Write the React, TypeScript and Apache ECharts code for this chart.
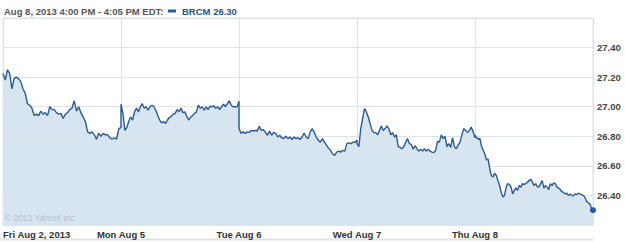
import React, { useEffect, useRef } from "react";
import * as echarts from "echarts";

const dayLabels = ["Fri Aug 2, 2013", "Mon Aug 5", "Tue Aug 6", "Wed Aug 7", "Thu Aug 8"];

const fri = [27.225, 27.18, 27.25, 27.225, 27.12, 27.19, 27.2, 27.19, 27.17, 27.12, 27.09, 27.02, 27.01, 26.99, 26.94, 26.95, 26.94, 26.97, 26.95, 26.96, 26.94, 27.0, 26.98, 26.98, 26.96, 26.95, 26.955, 26.92, 26.95, 26.96, 26.98, 26.99, 27.04, 26.97, 27.0, 26.96, 26.93, 26.9, 26.83, 26.82, 26.83, 26.81, 26.78, 26.82, 26.8, 26.82, 26.81, 26.81, 26.79, 26.78, 26.79, 26.78, 26.85, 26.86];
const mon = [27.017, 26.954, 26.84, 26.86, 26.9, 26.93, 26.91, 26.965, 26.99, 26.965, 27.0, 27.02, 26.99, 27.0, 26.976, 27.0, 27.01, 27.0, 26.976, 26.94, 26.91, 26.89, 26.9, 26.886, 26.91, 26.927, 26.935, 26.95, 26.954, 26.98, 26.965, 26.99, 26.96, 26.965, 26.935, 26.91, 26.93, 26.94, 26.954, 26.965, 27.01, 26.99, 27.0, 26.976, 27.0, 26.98, 27.003, 27.0, 27.005, 26.99, 27.0, 26.98, 27.0, 27.017, 27.0, 27.02, 27.04, 27.01, 27.0, 27.0, 27.0, 27.037];
const tue = [26.852, 26.82, 26.83, 26.82, 26.83, 26.826, 26.84, 26.836, 26.84, 26.835, 26.868, 26.84, 26.845, 26.826, 26.807, 26.836, 26.807, 26.826, 26.82, 26.795, 26.807, 26.79, 26.784, 26.8, 26.784, 26.795, 26.778, 26.795, 26.784, 26.79, 26.778, 26.795, 26.822, 26.795, 26.784, 26.83, 26.852, 26.826, 26.795, 26.773, 26.76, 26.784, 26.76, 26.74, 26.72, 26.705, 26.68, 26.67, 26.693, 26.7, 26.693, 26.705, 26.7, 26.75, 26.755, 26.75, 26.76, 26.76, 26.773];
const wed = [26.75, 26.73, 26.852, 26.92, 26.988, 26.965, 26.93, 26.886, 26.84, 26.825, 26.825, 26.81, 26.84, 26.87, 26.84, 26.852, 26.87, 26.852, 26.81, 26.825, 26.795, 26.81, 26.73, 26.725, 26.716, 26.73, 26.76, 26.784, 26.75, 26.745, 26.712, 26.736, 26.716, 26.7, 26.712, 26.7, 26.716, 26.7, 26.712, 26.7, 26.693, 26.69, 26.705, 26.765, 26.76, 26.81, 26.784, 26.8, 26.73, 26.75, 26.725, 26.79, 26.73, 26.716, 26.74, 26.76, 26.81, 26.852, 26.84, 26.825, 26.84, 26.862, 26.83, 26.79];
const thu = [26.807, 26.79, 26.78, 26.785, 26.73, 26.705, 26.68, 26.64, 26.645, 26.58, 26.535, 26.525, 26.55, 26.535, 26.5, 26.467, 26.42, 26.39, 26.4, 26.456, 26.48, 26.475, 26.456, 26.41, 26.435, 26.45, 26.435, 26.467, 26.456, 26.48, 26.475, 26.48, 26.49, 26.5, 26.51, 26.49, 26.467, 26.48, 26.46, 26.456, 26.48, 26.5, 26.45, 26.467, 26.456, 26.44, 26.48, 26.467, 26.485, 26.48, 26.456, 26.45, 26.44, 26.425, 26.42, 26.41, 26.415, 26.4, 26.41, 26.4, 26.397, 26.41, 26.405, 26.415, 26.41, 26.405, 26.4, 26.39, 26.36, 26.35, 26.345, 26.315, 26.3];

const days = [fri, mon, tue, wed, thu];
const ticker = "BRCM";
const headerLabel = "Aug 8, 2013 4:00 PM - 4:05 PM EDT:";
const copyright = "\u00a9 2013 Yahoo! Inc.";

const Y_MIN = 26.2;
const Y_MAX = 27.6;
const Y_STEP = 0.2;

const FONT = "'Liberation Sans', Arial, sans-serif";
const LINE = "#2b5b94";
const FILL = "#d6e5f0";
const GRID = "#dbe3eb";

export default function App() {
  const ref = useRef<HTMLDivElement>(null);

  useEffect(() => {
    if (!ref.current) return;
    const chart = echarts.init(ref.current, undefined, { renderer: "svg" });
    const data = days.flatMap((arr, d) => arr.map((v, i) => [d + i / (arr.length - 1), v]));
    const last = data[data.length - 1];

    chart.setOption({
      animation: false,
      grid: {
        left: 3,
        right: 32,
        top: 18,
        bottom: 17,
        show: true,
        borderColor: GRID,
        borderWidth: 1,
        z: 2,
      },
      xAxis: {
        type: "value",
        min: 0,
        max: days.length,
        interval: 1,
        z: 2,
        axisLine: { show: false },
        axisTick: { show: false },
        splitLine: { show: true, lineStyle: { color: GRID, width: 1 } },
        axisLabel: {
          showMaxLabel: false,
          alignMinLabel: "left",
          margin: 4,
          fontFamily: FONT,
          fontSize: 9.5,
          fontWeight: "bold",
          color: "#333",
          formatter: (v: number) => dayLabels[Math.round(v)] ?? "",
        },
      },
      yAxis: {
        type: "value",
        position: "right",
        min: Y_MIN,
        max: Y_MAX,
        interval: Y_STEP,
        z: 2,
        axisLine: { show: false },
        axisTick: { show: false },
        splitLine: { show: true, lineStyle: { color: GRID, width: 1 } },
        axisLabel: {
          showMinLabel: false,
          showMaxLabel: false,
          margin: 4,
          fontFamily: FONT,
          fontSize: 9.5,
          fontWeight: "bold",
          color: "#444",
          formatter: (v: number) => v.toFixed(2),
        },
      },
      series: [
        {
          type: "line",
          data,
          z: 1,
          symbol: "none",
          lineStyle: { width: 0 },
          areaStyle: { color: FILL, opacity: 1, origin: "start" },
          silent: true,
        },
        {
          type: "line",
          data,
          z: 3,
          symbol: "none",
          lineStyle: { color: LINE, width: 1.4 },
          silent: true,
        },
        {
          type: "scatter",
          data: [last],
          z: 4,
          symbolSize: 6,
          itemStyle: { color: LINE, opacity: 1 },
          silent: true,
        },
      ],
      graphic: [
        {
          type: "text",
          left: 4,
          top: 6,
          style: { text: headerLabel, fontFamily: FONT, fontSize: 9.5, fontWeight: "bold", fill: "#555" },
        },
        {
          type: "rect",
          shape: { x: 168, y: 9.5, width: 8, height: 3 },
          style: { fill: LINE },
        },
        {
          type: "text",
          left: 182,
          top: 6,
          style: {
            text: `${ticker} ${(last[1] as number).toFixed(2)}`,
            fontFamily: FONT,
            fontSize: 9.5,
            fontWeight: "bold",
            fill: "#1f5390",
          },
        },
        {
          type: "text",
          left: 5,
          top: 213,
          z: 10,
          style: { text: copyright, fontFamily: FONT, fontSize: 8.5, fill: "#b3c1cf" },
        },
        {
          type: "rect",
          shape: { x: 0, y: 238.5, width: 593, height: 2 },
          style: { fill: "#e2e2e2" },
        },
      ],
    });
    return () => chart.dispose();
  }, []);

  return <div ref={ref} style={{ position: "absolute", left: 0, top: 0, width: 625, height: 242 }} />;
}
